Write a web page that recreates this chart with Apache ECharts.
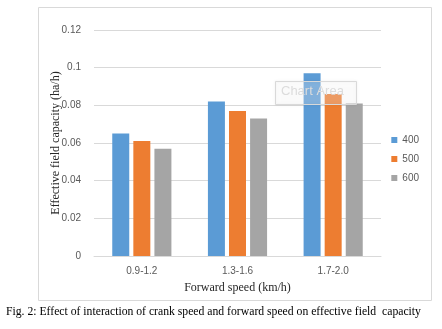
<!DOCTYPE html>
<html><head><meta charset="utf-8">
<script src="https://cdn.jsdelivr.net/npm/echarts@6/dist/echarts.min.js"></script>
<style>html,body{margin:0;padding:0;background:#fff;}#c{width:442px;height:329px;}</style>
</head><body><div id="c"></div>
<script>
const categories = ['0.9-1.2', '1.3-1.6', '1.7-2.0'];
const seriesNames = ['400', '500', '600'];
const s400 = [0.065, 0.082, 0.097];
const s500 = [0.061, 0.077, 0.086];
const s600 = [0.057, 0.073, 0.081];
const yTicks = [0, 0.02, 0.04, 0.06, 0.08, 0.1, 0.12];
const colors = ['#5b9bd5', '#ed7d31', '#a5a5a5'];

const chart = echarts.init(document.getElementById('c'), null, {renderer: 'canvas'});
const lbl = {color: '#595959', fontFamily: 'Liberation Sans, Arial', fontSize: 10};
const mk = (name, data, i) => ({
  name, type: 'bar', data, barWidth: 17, barGap: '24%',
  itemStyle: {color: colors[i]}
});
chart.setOption({
  animation: false,
  grid: {left: 94, right: 61, top: 30, bottom: 73},
  legend: {
    orient: 'vertical', right: 18, top: 130, itemWidth: 6, itemHeight: 6, itemGap: 9,
    icon: 'rect', textStyle: {color: '#595959', fontSize: 10, fontFamily: 'Liberation Sans, Arial'},
    data: seriesNames
  },
  xAxis: {
    type: 'category', data: categories,
    axisLine: {lineStyle: {color: '#d9d9d9'}}, axisTick: {show: false},
    axisLabel: Object.assign({margin: 10}, lbl),
    name: 'Forward speed (km/h)', nameLocation: 'middle', nameGap: 26, nameMoveOverlap: false,
    nameTextStyle: {fontFamily: 'Liberation Serif, Times New Roman', fontSize: 12, color: '#262626'}
  },
  yAxis: {
    type: 'value', min: 0, max: 0.12, interval: 0.02,
    axisLine: {show: false}, axisTick: {show: false},
    splitLine: {lineStyle: {color: '#d9d9d9'}},
    axisLabel: Object.assign({margin: 13, formatter: v => {
      const t = yTicks.find(x => Math.abs(x - v) < 1e-9); return String(t !== undefined ? t : v);
    }}, lbl),
    name: 'Effective field capacity (ha/h)', nameLocation: 'middle', nameGap: 32, nameMoveOverlap: false,
    nameTextStyle: {fontFamily: 'Liberation Serif, Times New Roman', fontSize: 12, color: '#262626'}
  },
  series: [mk(seriesNames[0], s400, 0), mk(seriesNames[1], s500, 1), mk(seriesNames[2], s600, 2)],
  graphic: [
    {type: 'rect', shape: {x: 38.5, y: 7.5, width: 393, height: 293}, style: {fill: 'none', stroke: '#d9d9d9', lineWidth: 1}, z: -1},
    {type: 'rect', shape: {x: 275.5, y: 81.5, width: 81, height: 23}, style: {fill: 'rgba(255,255,255,0.25)', stroke: '#d9d9d9', lineWidth: 1, shadowBlur: 3, shadowColor: 'rgba(0,0,0,0.1)'}, z: 100},
    {type: 'text', left: 281, top: 85, style: {text: 'Chart Area', fill: '#dcdcdc', font: '13px Liberation Sans, Arial'}, z: 101},
    {type: 'text', left: 6, top: 306, style: {text: 'Fig. 2: Effect of interaction of crank speed and forward speed on effective field  capacity', fill: '#000', font: '11.7px Liberation Serif, Times New Roman'}}
  ]
});
</script></body></html>
